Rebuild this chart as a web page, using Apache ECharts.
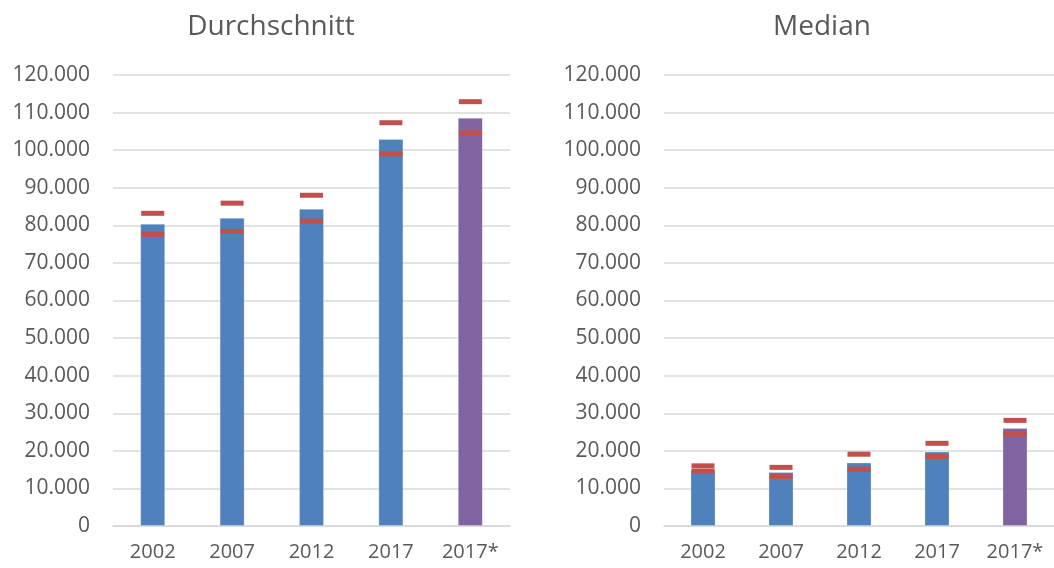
<!DOCTYPE html>
<html>
<head>
<meta charset="utf-8">
<script src="https://cdn.jsdelivr.net/npm/echarts@6/dist/echarts.min.js"></script>
<style>html,body{margin:0;padding:0;background:#fff;}#c{width:1054px;height:568px;}</style>
</head>
<body>
<div id="c"></div>
<script>
const categories = ['2002', '2007', '2012', '2017', '2017*'];
const meanValues = [80400, 82000, 84400, 103000, 108600];
const meanUpper = [83200, 85900, 88000, 107300, 112900];
const meanLower = [77600, 78400, 81100, 99000, 104600];
const medianValues = [14900, 14400, 16900, 19800, 26100];
const medianUpper = [16000, 15600, 19100, 22000, 28100];
const medianLower = [14600, 13200, 15100, 18500, 24400];
const panelTitles = ['Durchschnitt', 'Median'];
const yMax = 120000;
const yStep = 10000;

const FONT = 'Open Sans';
const TXT = '#595959';
const BLUE = '#4F81BD';
const PURPLE = '#8064A2';
const RED = '#C0504D';

function fmt(v) {
  return String(v).replace(/\B(?=(\d{3})+(?!\d))/g, '.');
}
function barData(vals) {
  return vals.map((v, i) => ({
    value: v,
    itemStyle: { color: i === vals.length - 1 ? PURPLE : BLUE }
  }));
}
const grids = [
  { left: 113, width: 397, top: 75, height: 451 },
  { left: 664, width: 397, top: 75, height: 451 }
];
const chart = echarts.init(document.getElementById('c'));
const xAxes = [], yAxes = [], series = [];
[0, 1].forEach(k => {
  xAxes.push({
    type: 'category', gridIndex: k, data: categories,
    axisLine: { lineStyle: { color: '#d9d9d9', width: 1.5 } },
    axisTick: { show: false },
    axisLabel: { color: TXT, fontFamily: FONT, fontSize: 20, margin: 16 }
  });
  yAxes.push({
    type: 'value', gridIndex: k, min: 0, max: yMax, interval: yStep,
    axisLine: { show: false }, axisTick: { show: false },
    splitLine: { lineStyle: { color: '#d9d9d9', width: 1.5 } },
    axisLabel: { color: TXT, fontFamily: FONT, fontSize: 21, margin: 23, formatter: fmt }
  });
  const vals = k === 0 ? meanValues : medianValues;
  const up = k === 0 ? meanUpper : medianUpper;
  const lo = k === 0 ? meanLower : medianLower;
  series.push({
    type: 'bar', xAxisIndex: k, yAxisIndex: k, data: barData(vals),
    barWidth: 25,
    itemStyle: { borderColor: 'rgba(255,255,255,0.25)', borderWidth: 1 }
  });
  [up, lo].forEach(arr => series.push({
    type: 'scatter', xAxisIndex: k, yAxisIndex: k, data: arr,
    symbol: 'rect', symbolSize: [23, 5],
    itemStyle: { color: RED, opacity: 1 }, z: 5
  }));
});
chart.setOption({
  animation: false,
  backgroundColor: '#fff',
  title: [
    { text: panelTitles[0], left: 266, top: 8, textAlign: 'center',
      textStyle: { color: TXT, fontFamily: FONT, fontSize: 28, fontWeight: 'normal' } },
    { text: panelTitles[1], left: 817, top: 8, textAlign: 'center',
      textStyle: { color: TXT, fontFamily: FONT, fontSize: 28, fontWeight: 'normal' } }
  ],
  grid: grids,
  xAxis: xAxes,
  yAxis: yAxes,
  series: series
});
</script>
</body>
</html>
